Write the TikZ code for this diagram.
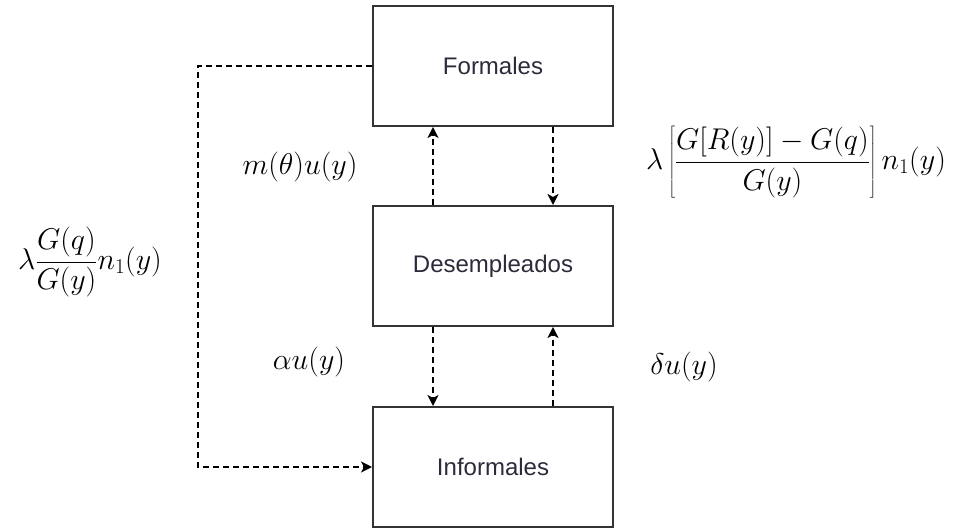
\RequirePackage{fix-cm}
\documentclass[tikz,border=0pt]{standalone}
\usepackage{fontspec}
\setsansfont{Liberation Sans}
\usetikzlibrary{arrows.meta}
\definecolor{edge}{HTML}{333333}
\definecolor{ink}{HTML}{2B2B3A}
\begin{document}
\begin{tikzpicture}[x=1pt,y=-1pt,
  state/.style={draw=edge,line width=2pt,minimum width=240pt,minimum height=120pt,
    inner sep=0pt,font=\sffamily\fontsize{24}{28}\selectfont,text=ink},
  flow/.style={draw=black,line width=1.5pt,dash pattern=on 6pt off 4pt,
    -{Stealth[length=11pt,width=11pt,inset=3pt]}},
  rate/.style={inner sep=0pt,font=\fontsize{30}{36}\selectfont}]
\useasboundingbox (0,0) rectangle (961,529);

% the three states
\node[state] (fo) at (493,66)  {Formales};
\node[state] (de) at (493,266) {Desempleados};
\node[state] (in) at (493,467) {Informales};

% flows between neighbouring states
\draw[flow] ([xshift=-60pt]de.north) -- ([xshift=-60pt]fo.south);
\draw[flow] ([xshift=60pt]fo.south)  -- ([xshift=60pt]de.north);
\draw[flow] ([xshift=-60pt]de.south) -- ([xshift=-60pt]in.north);
\draw[flow] ([xshift=60pt]in.north)  -- ([xshift=60pt]de.south);

% direct flow from formal to informal
\coordinate (bend) at (198,66);
\draw[flow] (fo.west) -- (bend) |- (in.west);

% transition rates
\node[rate] (r1) at (300,167) {$m(\theta)u(y)$};
\node[rate] (r2) at (796,162) {$\displaystyle\lambda\left[\frac{G[R(y)]-G(q)}{G(y)}\right]n_1(y)$};
\node[rate] (r3) at (90,262) {$\displaystyle\lambda\frac{G(q)}{G(y)}n_1(y)$};
\node[rate] (r4) at (309,362) {$\alpha u(y)$};
\node[rate] (r5) at (684,367) {$\delta u(y)$};
\end{tikzpicture}
\end{document}
